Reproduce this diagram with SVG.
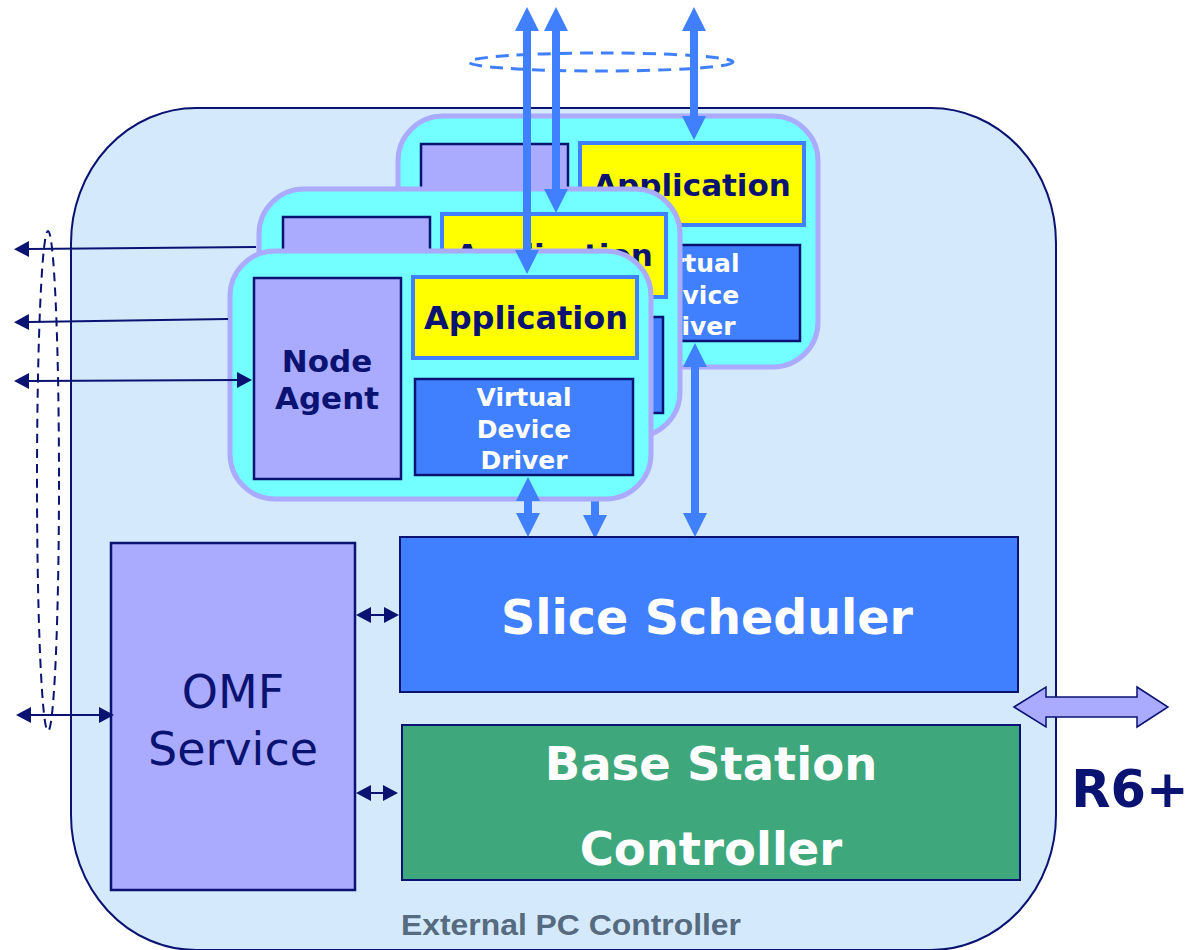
<svg xmlns="http://www.w3.org/2000/svg" width="1203" height="950" viewBox="0 0 1203 950">
<style>
.card{fill:#73ffff;stroke:#aaaaff;stroke-width:5}
.agent{fill:#aaaaff;stroke:#0a1272;stroke-width:2.5}
.app{fill:#ffff00;stroke:#4080ff;stroke-width:4}
.vdd{fill:#4080ff;stroke:#0a1272;stroke-width:2.5}
.t{font-family:"DejaVu Sans",Verdana,sans-serif;font-weight:bold;text-anchor:middle}
.navy{fill:#0a1272}
.white{fill:#ffffff}
.bl{stroke:#4080ff;stroke-width:8;fill:none}
.nv{stroke:#0a1272;stroke-width:2;fill:none}
</style>
<defs>
<marker id="bh" viewBox="0 -12 24 24" refX="0" refY="0" markerWidth="24" markerHeight="24" markerUnits="userSpaceOnUse" orient="auto-start-reverse">
<path d="M0,-12 L24,0 L0,12 Z" fill="#4080ff"/>
</marker>
<marker id="nh" viewBox="0 -8 15 16" refX="0" refY="0" markerWidth="15" markerHeight="16" markerUnits="userSpaceOnUse" orient="auto-start-reverse">
<path d="M0,-8 L15,0 L0,8 Z" fill="#0a1272"/>
</marker>
</defs>
<rect width="1203" height="950" fill="#ffffff"/>

<g id="pc-controller">
<rect x="71" y="108" width="985" height="842" rx="125" ry="135" fill="#d5e9fd" stroke="#0a1272" stroke-width="2"/>
<text x="571" y="935" font-family="'Liberation Sans',Arial,sans-serif" font-weight="bold" font-size="30" fill="#566a80" text-anchor="middle" textLength="340" lengthAdjust="spacingAndGlyphs">External PC Controller</text>
</g>

<g id="node-back">
<rect class="card" x="398" y="116" width="420" height="251" rx="45"/>
<rect class="agent" x="421" y="144" width="147" height="200"/>
<rect class="app" x="580" y="143" width="224" height="82"/>
<text class="t navy" x="692" y="196" font-size="31">Application</text>
<rect class="vdd" x="583" y="245" width="217" height="96"/>
<text class="t white" font-size="25"><tspan x="692" y="272">Virtual</tspan><tspan x="692" y="304">Device</tspan><tspan x="692" y="335">Driver</tspan></text>
</g>

<g id="node-middle">
<rect class="card" x="259" y="189" width="421" height="248" rx="45"/>
<rect class="agent" x="283" y="217" width="147" height="200"/>
<rect class="app" x="442" y="214" width="224" height="83"/>
<text class="t navy" x="554" y="266" font-size="31">Application</text>
<rect class="vdd" x="445" y="317" width="218" height="96"/>
</g>

<g id="arrow-middle-vdd">
<line class="bl" x1="595" y1="440" x2="595" y2="515" marker-end="url(#bh)"/>
</g>

<g id="node-front">
<rect class="card" x="230" y="251" width="421" height="248" rx="45"/>
<rect class="agent" x="254" y="278" width="147" height="201"/>
<text class="t navy" font-size="31"><tspan x="327" y="372">Node</tspan><tspan x="327" y="409">Agent</tspan></text>
<rect class="app" x="413" y="277" width="224" height="81"/>
<text class="t navy" x="526" y="329" font-size="32">Application</text>
<rect class="vdd" x="415" y="379" width="218" height="96"/>
<text class="t white" font-size="25"><tspan x="524" y="406">Virtual</tspan><tspan x="524" y="438">Device</tspan><tspan x="524" y="469">Driver</tspan></text>
</g>

<g id="omf-service">
<rect class="agent" x="111" y="543" width="244" height="347"/>
<text font-family="'DejaVu Sans',Verdana,sans-serif" font-size="46" fill="#0a1272" text-anchor="middle"><tspan x="233" y="708">OMF</tspan><tspan x="233" y="765">Service</tspan></text>
</g>

<g id="slice-scheduler">
<rect x="400" y="537" width="618" height="155" fill="#4080ff" stroke="#0a1272" stroke-width="2"/>
<text class="t white" x="707" y="634" font-size="47.5">Slice Scheduler</text>
</g>

<g id="base-station-controller">
<rect x="402" y="725" width="618" height="155" fill="#3fa77c" stroke="#0a1272" stroke-width="2"/>
<text class="t white" font-size="46.5"><tspan x="711" y="780">Base Station</tspan><tspan x="711" y="865">Controller</tspan></text>
</g>

<g id="r6">
<path d="M1014,707 L1046,687 L1046,697 L1137,697 L1137,687 L1168,707 L1137,727 L1137,717 L1046,717 L1046,727 Z" fill="#aaaaff" stroke="#0a1272" stroke-width="1.5"/>
<text class="t navy" x="1130" y="807" font-size="51">R6+</text>
</g>

<g id="connectors">
<ellipse cx="601" cy="62" rx="132" ry="9" fill="none" stroke="#4080ff" stroke-width="3" stroke-dasharray="13 8"/>
<line class="bl" x1="527" y1="31" x2="527" y2="250" marker-start="url(#bh)" marker-end="url(#bh)"/>
<line class="bl" x1="556" y1="31" x2="556" y2="189" marker-start="url(#bh)" marker-end="url(#bh)"/>
<line class="bl" x1="694" y1="31" x2="694" y2="116" marker-start="url(#bh)" marker-end="url(#bh)"/>
<line class="bl" x1="528" y1="501" x2="528" y2="513" marker-start="url(#bh)" marker-end="url(#bh)"/>
<line class="bl" x1="695" y1="367" x2="695" y2="513" marker-start="url(#bh)" marker-end="url(#bh)"/>
<ellipse cx="48" cy="481" rx="11" ry="250" fill="none" stroke="#0a1272" stroke-width="2" stroke-dasharray="9 6"/>
<line class="nv" x1="256" y1="247" x2="29" y2="249" marker-end="url(#nh)"/>
<line class="nv" x1="228" y1="319" x2="29" y2="322" marker-end="url(#nh)"/>
<line class="nv" x1="29" y1="381" x2="237" y2="380" marker-start="url(#nh)" marker-end="url(#nh)"/>
<line class="nv" x1="31" y1="715" x2="99" y2="715" marker-start="url(#nh)" marker-end="url(#nh)"/>
<line class="nv" x1="371" y1="615" x2="384" y2="615" marker-start="url(#nh)" marker-end="url(#nh)"/>
<line class="nv" x1="371" y1="793" x2="383" y2="793" marker-start="url(#nh)" marker-end="url(#nh)"/>
</g>
</svg>
